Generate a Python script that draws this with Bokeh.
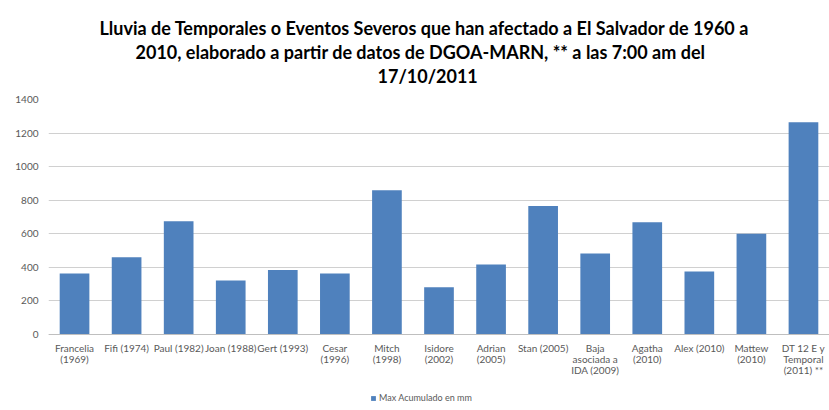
from bokeh.plotting import figure
from bokeh.models import Range1d, FactorRange, Title, Legend, LegendItem, ColumnDataSource, FixedTicker
from bokeh.embed import file_html
from bokeh.resources import INLINE

categories = [
    "Francelia\n(1969)", "Fifi (1974)", "Paul (1982)", "Joan (1988)", "Gert (1993)",
    "Cesar\n(1996)", "Mitch\n(1998)", "Isidore\n(2002)", "Adrian\n(2005)", "Stan (2005)",
    "Baja\nasociada a\nIDA (2009)", "Agatha\n(2010)", "Alex (2010)", "Mattew\n(2010)",
    "DT 12 E y\nTemporal\n(2011) **",
]
values = [363, 460, 675, 322, 385, 363, 860, 282, 417, 766, 482, 669, 375, 600, 1265]
y_ticks = [0, 200, 400, 600, 800, 1000, 1200, 1400]
series_name = "Max Acumulado en mm"
title_lines = [
    "Lluvia de Temporales o Eventos Severos que han afectado a El Salvador de 1960 a",
    "2010, elaborado a partir de datos de DGOA-MARN, ** a las 7:00 am del",
    "17/10/2011",
]
title_offsets = [51, 87, 329]

FONT = "Lato"
BLUE = "#4F81BD"
GRAY = "#595959"

# frame spans the plot area plus the label/legend band below the zero line
PLOT_PX = 235
BAND_PX = 70
Y_MAX = 1400
y_min = -Y_MAX * BAND_PX / PLOT_PX

source = ColumnDataSource(dict(cat=categories, val=values))

p = figure(
    frame_width=781, frame_height=PLOT_PX + BAND_PX,
    x_range=FactorRange(*categories, range_padding=0),
    y_range=Range1d(y_min, Y_MAX),
    output_backend="svg", toolbar_location=None, title=None,
    min_border_left=48, min_border_right=0, min_border_top=0, min_border_bottom=0,
    background_fill_color="white", border_fill_color="white",
)
p.outline_line_color = None

r = p.vbar(x="cat", top="val", width=0.57, source=source, fill_color=BLUE, line_color=None)

# spacer nearest the frame
p.add_layout(Title(text=" ", text_font=FONT, text_font_size="9px", standoff=0), "above")
for line, off in zip(reversed(title_lines), reversed(title_offsets)):
    t = Title(text=line, align="left", offset=off, text_font=FONT, text_font_size="18px",
              text_font_style="bold", text_color="#000000", standoff=0)
    p.add_layout(t, "above")
# spacer at the very top
p.add_layout(Title(text=" ", text_font=FONT, text_font_size="10px", standoff=0), "above")

p.yaxis.ticker = FixedTicker(ticks=y_ticks)
p.yaxis.axis_line_color = None
p.yaxis.major_tick_line_color = None
p.yaxis.minor_tick_line_color = None
p.yaxis.major_tick_out = 0
p.yaxis.major_tick_in = 0
p.yaxis.major_label_text_font = FONT
p.yaxis.major_label_text_font_size = "10px"
p.yaxis.major_label_text_color = GRAY
p.yaxis.major_label_standoff = 10

p.xaxis.fixed_location = 0
p.xaxis.axis_line_color = "#bfbfbf"
p.xaxis.major_tick_line_color = None
p.xaxis.minor_tick_line_color = None
p.xaxis.major_tick_out = 0
p.xaxis.major_tick_in = 0
p.xaxis.major_label_text_font = FONT
p.xaxis.major_label_text_font_size = "10px"
p.xaxis.major_label_text_color = GRAY
p.xaxis.major_label_standoff = 7
p.xaxis.major_label_text_line_height = 0.95

p.xgrid.grid_line_color = None
p.ygrid.grid_line_color = "#d0d0d0"
p.ygrid.grid_line_width = 1

legend = Legend(items=[LegendItem(label=series_name, renderers=[r])],
                orientation="horizontal", location=(322, 1),
                label_text_font=FONT, label_text_font_size="9px", label_text_color=GRAY,
                glyph_width=6, glyph_height=6, label_height=8, padding=2, margin=0,
                border_line_color=None, background_fill_alpha=0, label_standoff=3)
p.add_layout(legend, "center")

open("out.html", "w").write(file_html(p, INLINE))
